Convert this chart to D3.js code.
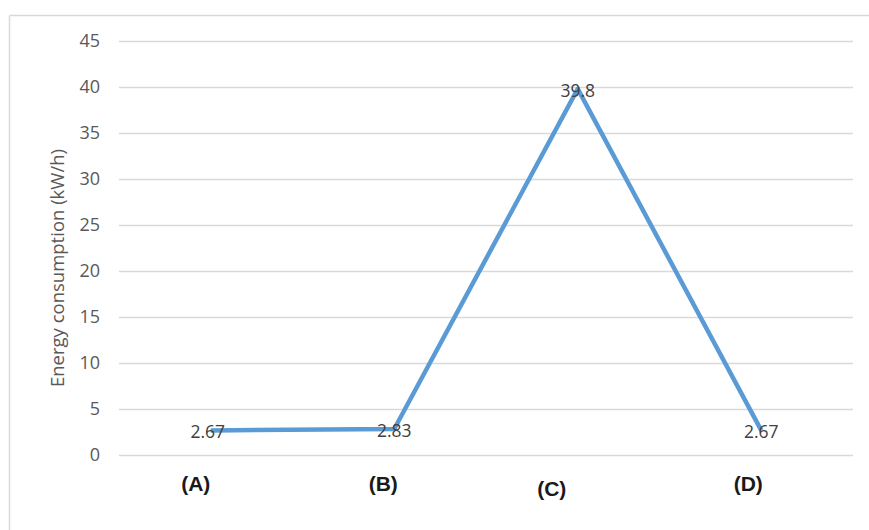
<!DOCTYPE html>
<html>
<head>
<meta charset="utf-8">
<script src="https://cdn.jsdelivr.net/npm/d3@7/dist/d3.min.js"></script>
<style>
  html, body { margin: 0; padding: 0; background: #fff; }
  svg { display: block; }
</style>
</head>
<body>
<svg id="chart" width="869" height="530"></svg>
<script>
// Energy consumption per configuration
const categories = ["(A)", "(B)", "(C)", "(D)"];
const values = [2.67, 2.83, 39.8, 2.67];
const valueLabels = ["2.67", "2.83", "39.8", "2.67"];
const yTicks = [0, 5, 10, 15, 20, 25, 30, 35, 40, 45];
const yTitle = "Energy consumption (kW/h)";
// hand-placed category label nudges (dx, dy)
const labelNudge = [[-15, 0], [-11, 0], [-26, 5], [-13, 0]];

const svg = d3.select("#chart");
const W = 869, H = 530;
const m = { left: 119, right: 16, top: 41, bottom: 75 };

// chart area frame (left and top edges)
svg.append("line").attr("x1", 9.5).attr("x2", 9.5).attr("y1", 15.5).attr("y2", H)
  .attr("stroke", "#d9d9d9").attr("stroke-width", 1.5);
svg.append("line").attr("x1", 9.5).attr("x2", W).attr("y1", 15.5).attr("y2", 15.5)
  .attr("stroke", "#d9d9d9").attr("stroke-width", 1.5);

const x = d3.scaleBand().domain(categories).range([m.left, W - m.right]);
const y = d3.scaleLinear().domain([0, 45]).range([H - m.bottom, m.top]);

// gridlines + tick labels
const yAxis = d3.axisLeft(y).tickValues(yTicks).tickSize(-(W - m.right - m.left)).tickPadding(19);
const gy = svg.append("g").attr("transform", `translate(${m.left},0)`).call(yAxis);
gy.select(".domain").remove();
gy.selectAll(".tick line").attr("stroke", "#d9d9d9").attr("stroke-width", 1.5);
gy.selectAll(".tick text")
  .attr("fill", "#595959")
  .style("font-family", "'Open Sans', 'Noto Sans', sans-serif")
  .style("font-size", "18px");

// y axis title
svg.append("text")
  .attr("transform", `translate(64, ${(y(0) + y(45)) / 2 + 20}) rotate(-90)`)
  .attr("text-anchor", "middle")
  .attr("fill", "#595959")
  .style("font-family", "'Open Sans', 'Noto Sans', sans-serif")
  .style("font-size", "18.5px")
  .text(yTitle);

// category labels
svg.append("g").selectAll("text").data(categories).join("text")
  .attr("x", (d, i) => x(d) + x.bandwidth() / 2 + labelNudge[i][0])
  .attr("y", (d, i) => y(0) + 36 + labelNudge[i][1])
  .attr("text-anchor", "middle")
  .attr("fill", "#1a1a1a")
  .style("font-family", "'Liberation Sans', Arial, sans-serif")
  .style("font-weight", "bold")
  .style("font-size", "21px")
  .text(d => d);

// series line
const line = d3.line()
  .x((d, i) => x(categories[i]) + x.bandwidth() / 2)
  .y(d => y(d));
svg.append("path").datum(values)
  .attr("d", line)
  .attr("fill", "none")
  .attr("stroke", "#5b9bd5")
  .attr("stroke-width", 4.5)
  .attr("stroke-linejoin", "round");

// value labels
svg.append("g").selectAll("text").data(values).join("text")
  .attr("x", (d, i) => x(categories[i]) + x.bandwidth() / 2 + (i === 0 ? -3 : 0))
  .attr("y", d => y(d) + 8)
  .attr("text-anchor", "middle")
  .attr("fill", "#404040")
  .style("font-family", "'Open Sans', 'Noto Sans', sans-serif")
  .style("font-size", "17.5px")
  .text((d, i) => valueLabels[i]);
</script>
</body>
</html>
